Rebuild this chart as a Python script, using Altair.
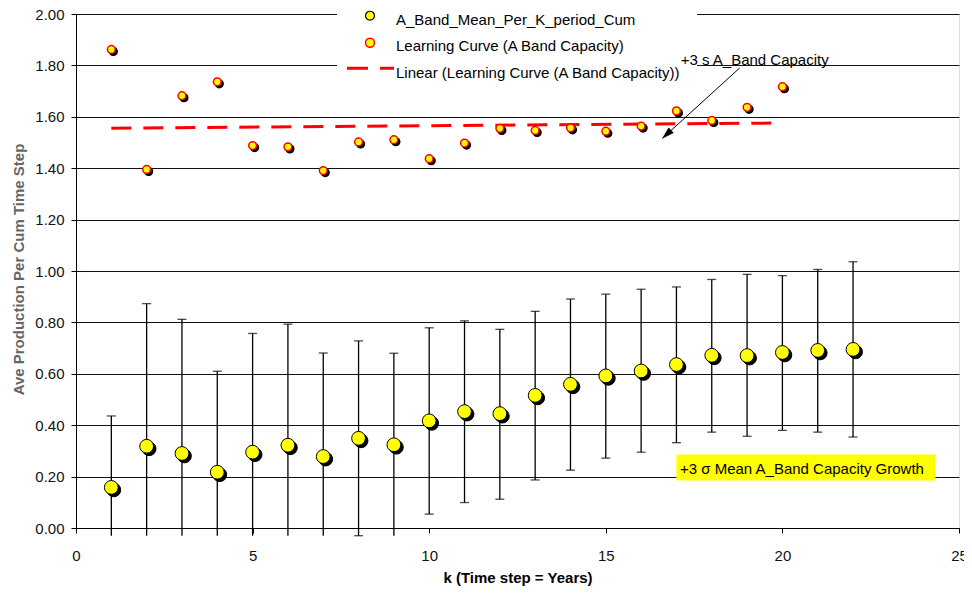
import altair as alt
import pandas as pd

# ---------------- data ----------------
k_mean = list(range(1, 23))
mean_vals = [0.158, 0.318, 0.290, 0.217, 0.295, 0.322, 0.278, 0.349, 0.324, 0.417, 0.453,
             0.445, 0.516, 0.559, 0.592, 0.611, 0.636, 0.672, 0.671, 0.683, 0.691, 0.695]
upper_vals = [0.436, 0.873, 0.812, 0.610, 0.757, 0.793, 0.681, 0.728, 0.680, 0.779, 0.806,
              0.773, 0.843, 0.891, 0.910, 0.929, 0.938, 0.967, 0.987, 0.982, 1.006, 1.036]
lower_vals = [-0.12, -0.24, -0.23, -0.18, -0.17, -0.15, -0.13, -0.03, -0.04, 0.054, 0.099,
              0.112, 0.187, 0.225, 0.272, 0.295, 0.332, 0.373, 0.357, 0.380, 0.373, 0.354]

k_lc = list(range(1, 21))
lc_vals = [1.862, 1.395, 1.682, 1.736, 1.488, 1.483, 1.391, 1.502, 1.511, 1.437,
           1.498, 1.555, 1.547, 1.557, 1.544, 1.564, 1.623, 1.586, 1.637, 1.717]

x_ticks = [0, 5, 10, 15, 20, 25]
y_ticks = [0.0, 0.2, 0.4, 0.6, 0.8, 1.0, 1.2, 1.4, 1.6, 1.8, 2.0]

legend_labels = ["A_Band_Mean_Per_K_period_Cum",
                 "Learning Curve (A Band Capacity)",
                 "Linear (Learning Curve (A Band Capacity))"]

note_sigma_text = "+3 s A_Band Capacity"
note_sigma_pos = [17.12, 1.803]
arrow_start = [18.79, 1.79]
arrow_end = [16.61, 1.517]

box_text = "+3 \u03c3 Mean A_Band Capacity Growth"
box_x = [17.0, 24.33]
box_y = [0.185, 0.286]
box_text_pos = [17.1, 0.211]

# ---------------- tables ----------------
mean_df = pd.DataFrame({"k": k_mean, "v": mean_vals, "upper": upper_vals, "lower": lower_vals})
lc_df = pd.DataFrame({"k": k_lc, "v": lc_vals})
one = pd.DataFrame({"d": [0]})

FONT = "Liberation Sans, Arial, sans-serif"
TOP = 6  # plot top sits at page y = 8 + TOP
W, H = 883, 520 - TOP
YTITLE = "Ave Production Per Cum Time Step"
XTITLE = "k (Time step = Years)"

xscale = alt.Scale(domain=[0, 25], nice=False, zero=False)
yscale = alt.Scale(domain=[0, 2], nice=False, zero=False)

xaxis = alt.Axis(values=x_ticks, grid=False, tickSize=5, tickColor="black",
                 domainColor="black", labelFontSize=15, labelColor="#111",
                 labelFont=FONT, labelPadding=15, labelFlush=False,
                 title=XTITLE, titleFont=FONT, titleFontSize=15, titleFontWeight="bold",
                 titleColor="black", titleX=W / 2, titleY=49, titleAlign="center",
                 titleBaseline="middle")
yaxis = alt.Axis(values=y_ticks, format=".2f", grid=True, gridColor="#111", gridWidth=1,
                 gridOpacity=1, tickSize=5, tickColor="black", domainColor="black",
                 labelFontSize=15, labelColor="#111", labelFont=FONT, labelPadding=7,
                 title=YTITLE, titleFont=FONT, titleFontSize=15, titleFontWeight="bold",
                 titleColor="#666", titleAngle=270, titleX=-58, titleY=261 - TOP,
                 titleAlign="center", titleBaseline="middle")


def X(field="k"):
    return alt.X(f"{field}:Q", scale=xscale, axis=xaxis, title=XTITLE)


def Y(field):
    return alt.Y(f"{field}:Q", scale=yscale, axis=yaxis, title=YTITLE)


def py(page_y):
    """page pixel y -> plot-relative pixel y (for legend furniture)"""
    return page_y - 8 - TOP


# legend white box (hides gridlines behind the legend)
legend_box = alt.Chart(one).mark_rect(color="white").encode(
    x=alt.value(261), x2=alt.value(621), y=alt.value(py(4)), y2=alt.value(py(102)))

base_mean = alt.Chart(mean_df).transform_calculate(lo="max(datum.lower, -0.03)")

err_rule = base_mean.mark_rule(color="black", strokeWidth=1.3).encode(
    x=X(), y=Y("lo"), y2="upper:Q")
cap_up = base_mean.mark_tick(orient="horizontal", color="black", size=9, thickness=1.3).encode(
    x=X(), y=Y("upper"))
cap_lo = base_mean.transform_filter("datum.lower >= -0.03").mark_tick(
    orient="horizontal", color="black", size=9, thickness=1.3).encode(x=X(), y=Y("lower"))

mean_shadow = alt.Chart(mean_df).mark_point(
    shape="circle", filled=True, fill="black", stroke="black", strokeWidth=1, size=190,
    opacity=1, xOffset=2.5, yOffset=2.5).encode(x=X(), y=Y("v"))
mean_pts = alt.Chart(mean_df).mark_point(
    shape="circle", filled=True, fill="#FFFF00", stroke="black", strokeWidth=1, size=190,
    opacity=1).encode(x=X(), y=Y("v"))

lc_shadow = alt.Chart(lc_df).mark_point(
    shape="circle", filled=True, fill="black", stroke="black", strokeWidth=1.5, size=60,
    opacity=1, xOffset=2, yOffset=2).encode(x=X(), y=Y("v"))
lc_pts = alt.Chart(lc_df).mark_point(
    shape="circle", filled=True, fill="#FFFF00", stroke="#FF0000", strokeWidth=1.5, size=60,
    opacity=1).encode(x=X(), y=Y("v"))

trend = alt.Chart(lc_df).transform_regression("k", "v", method="linear", extent=[1, 20]).mark_line(
    color="#FF0000", strokeWidth=3, strokeDash=[20, 12]).encode(x=X(), y=Y("v"))

# legend entries
leg_sym1 = alt.Chart(one).mark_point(shape="circle", filled=True, fill="#FFFF00", stroke="black",
                                     strokeWidth=1.2, size=80, opacity=1).encode(
    x=alt.value(294), y=alt.value(py(15.7)))
leg_sym2 = alt.Chart(one).mark_point(shape="circle", filled=True, fill="#FFFF00", stroke="#FF0000",
                                     strokeWidth=1.5, size=80, opacity=1).encode(
    x=alt.value(294), y=alt.value(py(42.7)))
leg_line = alt.Chart(one).mark_rule(color="#FF0000", strokeWidth=3, strokeDash=[21, 12]).encode(
    x=alt.value(271), x2=alt.value(318), y=alt.value(py(68.3)))
leg_txt = [
    alt.Chart(one).mark_text(text=t, align="left", baseline="alphabetic", font=FONT,
                             fontSize=15, color="black").encode(x=alt.value(320), y=alt.value(py(yy)))
    for t, yy in zip(legend_labels, [24.5, 51, 77.5])
]

# annotations
ann_df = pd.DataFrame({"x": [note_sigma_pos[0]], "y": [note_sigma_pos[1]], "t": [note_sigma_text]})
ann_text = alt.Chart(ann_df).mark_text(align="left", baseline="alphabetic", font=FONT,
                                       fontSize=15, color="black").encode(
    x=X("x"), y=Y("y"), text="t:N")
arrow_df = pd.DataFrame({"x": [arrow_start[0]], "y": [arrow_start[1]],
                         "x2": [arrow_end[0]], "y2": [arrow_end[1]]})
arrow_line = alt.Chart(arrow_df).mark_rule(color="black", strokeWidth=1).encode(
    x=X("x"), y=Y("y"), x2="x2:Q", y2="y2:Q")
head_df = pd.DataFrame({"x": [arrow_end[0]], "y": [arrow_end[1]]})
arrow_head = alt.Chart(head_df).mark_point(
    shape="M0,0 L0.6,2 L-0.6,2 Z", angle=227, size=130, filled=True, fill="black",
    stroke="black", strokeWidth=0.5, opacity=1).encode(x=X("x"), y=Y("y"))

box_df = pd.DataFrame({"x": [box_x[0]], "x2": [box_x[1]], "y": [box_y[0]], "y2": [box_y[1]]})
ybox = alt.Chart(box_df).mark_rect(color="#FFFF00").encode(
    x=X("x"), x2="x2:Q", y=Y("y"), y2="y2:Q")
boxt_df = pd.DataFrame({"x": [box_text_pos[0]], "y": [box_text_pos[1]], "t": [box_text]})
box_txt = alt.Chart(boxt_df).mark_text(align="left", baseline="alphabetic", font=FONT,
                                       fontSize=15, color="black").encode(
    x=X("x"), y=Y("y"), text="t:N")

chart = alt.layer(
    legend_box, ybox, box_txt, err_rule, cap_up, cap_lo, trend,
    mean_shadow, mean_pts, lc_shadow, lc_pts,
    leg_sym1, leg_sym2, leg_line, *leg_txt,
    arrow_line, arrow_head, ann_text,
).properties(
    width=W, height=H,
    autosize=alt.AutoSizeParams(type="none"),
    padding={"left": 68, "top": TOP, "right": 5, "bottom": 60},
).configure_view(stroke="transparent").configure(background="white")

chart.save("out.html", embed_options={"renderer": "svg", "actions": False})
